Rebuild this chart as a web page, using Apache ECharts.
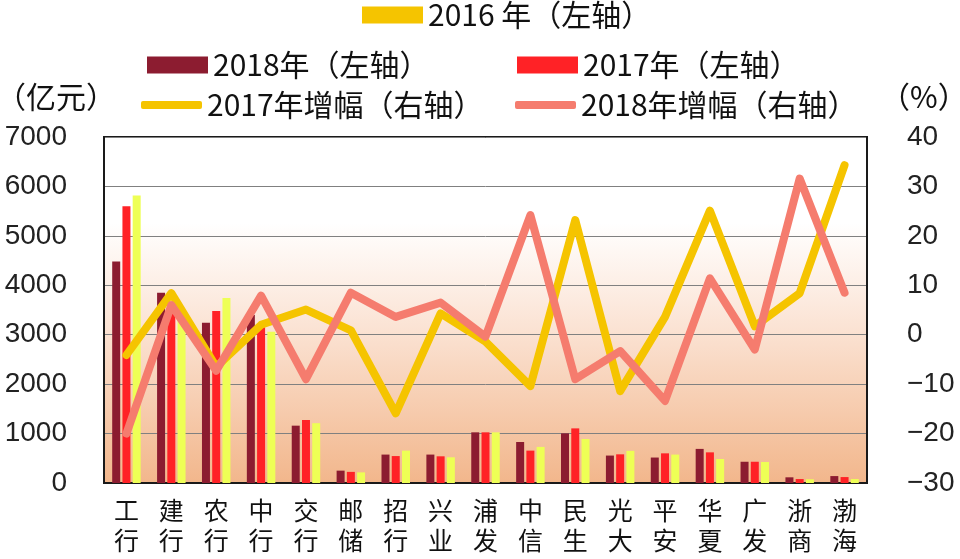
<!DOCTYPE html>
<html><head><meta charset="utf-8">
<script src="https://cdn.jsdelivr.net/npm/echarts@6/dist/echarts.min.js"></script>
<style>html,body{margin:0;padding:0;background:#fff}#c{width:960px;height:559px}</style>
</head><body><div id="c"></div>
<script>
var categories = ['工行','建行','农行','中行','交行','邮储','招行','兴业','浦发','中信','民生','光大','平安','华夏','广发','浙商','渤海'];
var v2018 = [4480, 3850, 3240, 3400, 1160, 250, 575, 575, 1025, 830, 1005, 555, 515, 690, 430, 115, 140];
var v2017 = [5600, 3650, 3480, 3150, 1275, 225, 545, 540, 1025, 655, 1105, 580, 600, 620, 430, 80, 120];
var v2016 = [5816, 3300, 3745, 3060, 1210, 215, 655, 520, 1025, 730, 890, 650, 575, 485, 425, 75, 80];
var g2017 = [-4.1, 8.4, -6.5, 2.0, 5.1, 0.9, -15.9, 4.3, -1.4, -10.4, 23.2, -11.4, 3.6, 25.1, 1.7, 8.4, 34.3];
var g2018 = [-20, 6, -7.3, 7.9, -9, 8.5, 3.6, 6.5, -0.4, 24.2, -9, -3.3, -13.4, 11.4, -3, 31.6, 8.5];
var leftTicks = {min: 0, max: 7000, interval: 1000};
var rightTicks = {min: -30, max: 40, interval: 10};

var CJK = "'Noto Sans CJK SC', sans-serif";
var NUM = "'Liberation Sans', 'Noto Sans CJK SC', sans-serif";
var legText = {fontSize: 30, fontFamily: CJK, color: '#111', lineHeight: 34};
function leg(name, left, top, icon, h, col) {
  var d = {name: name, icon: icon};
  if (col) d.itemStyle = {color: col};
  return {data: [d], left: left, top: top, itemWidth: 61, itemHeight: h,
    itemGap: 0, padding: 0, textStyle: legText, selectedMode: false};
}
var chart = echarts.init(document.getElementById('c'));
chart.setOption({
  animation: false,
  backgroundColor: '#fff',
  legend: [
    leg('2016 年（左轴）', 362, -2, 'rect', 17, '#f5c400'),
    leg('2018年（左轴）', 147, 48, 'rect', 17),
    leg('2017年（左轴）', 517, 48, 'rect', 17),
    leg('2017年增幅（右轴）', 141, 88, 'roundRect', 8),
    leg('2018年增幅（右轴）', 515, 88, 'roundRect', 8)
  ],
  graphic: [
    {type: 'text', left: -4, top: 82, style: {text: '（亿元）', fontSize: 30, fontFamily: CJK, fill: '#111'}},
    {type: 'text', left: 880, top: 82, style: {text: '（%）', fontSize: 30, fontFamily: CJK, fill: '#111'}}
  ],
  grid: {left: 104, right: 93, top: 137, bottom: 76, show: true, borderColor: '#1a1a1a', borderWidth: 2,
    backgroundColor: new echarts.graphic.LinearGradient(0, 0, 0, 1, [
      {offset: 0, color: '#ffffff'}, {offset: 0.25, color: '#ffffff'}, {offset: 0.55, color: '#fbe3d4'}, {offset: 1, color: '#f2b68b'}
    ])},
  xAxis: {type: 'category', data: categories,
    axisLine: {lineStyle: {color: '#1a1a1a', width: 2}}, axisTick: {show: false},
    axisLabel: {interval: 0, margin: 12, fontSize: 25, lineHeight: 30, fontFamily: CJK, color: '#111',
      formatter: function (v) { return v.split('').join('\n'); }}},
  yAxis: [
    {type: 'value', min: leftTicks.min, max: leftTicks.max, interval: leftTicks.interval,
      axisLine: {show: true, lineStyle: {color: '#1a1a1a', width: 2}}, axisTick: {show: false},
      splitLine: {lineStyle: {color: '#808080', width: 1}},
      axisLabel: {margin: 37, fontSize: 28, fontFamily: NUM, color: '#222',
        formatter: function (v) { return String(v); }}},
    {type: 'value', min: rightTicks.min, max: rightTicks.max, interval: rightTicks.interval, position: 'right',
      axisLine: {show: true, lineStyle: {color: '#1a1a1a', width: 2}}, axisTick: {show: false},
      splitLine: {show: false},
      axisLabel: {margin: 40, fontSize: 28, fontFamily: NUM, color: '#222',
        formatter: function (v) { return String(v).replace('-', '\u2212'); }}}
  ],
  series: [
    {name: '2018年（左轴）', type: 'bar', data: v2018, barWidth: 8, barGap: '28%', color: '#8c1c30'},
    {name: '2017年（左轴）', type: 'bar', data: v2017, barWidth: 8, barGap: '28%', color: '#ff2226'},
    {name: '2016 年（左轴）', type: 'bar', data: v2016, barWidth: 8, barGap: '28%', color: '#eeff55'},
    {name: '2017年增幅（右轴）', type: 'line', yAxisIndex: 1, data: g2017, symbol: 'none', color: '#f5c400',
      lineStyle: {width: 8, color: '#f5c400', cap: 'round', join: 'round'}},
    {name: '2018年增幅（右轴）', type: 'line', yAxisIndex: 1, data: g2018, symbol: 'none', color: '#f57c6e',
      lineStyle: {width: 8, color: '#f57c6e', cap: 'round', join: 'round'}}
  ]
});
</script></body></html>
